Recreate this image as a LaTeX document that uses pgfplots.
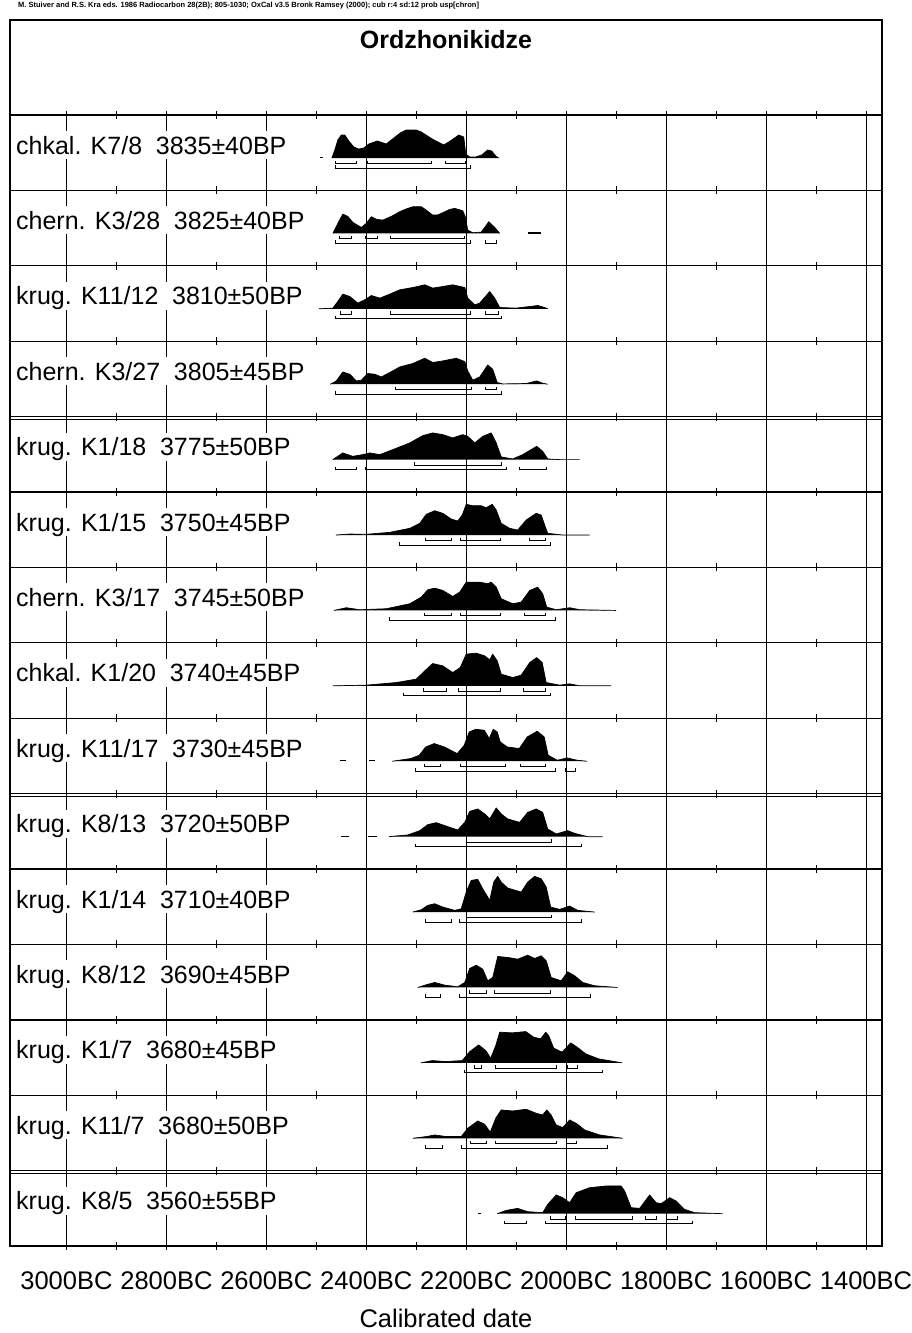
\documentclass[border=0pt]{standalone}
\usepackage{fontspec}
\setmainfont{Liberation Sans}
\usepackage{pgfplots}
\pgfplotsset{compat=1.18}
\usepgfplotslibrary{groupplots}
\usetikzlibrary{calc}
\pgfplotsset{
  dens/.style={fill=black, draw=black, line width=0.7pt, line join=round},
  br/.style={black, line width=0.9pt, line join=miter},
  dash/.style={black, line width=1.2pt},
}
\tikzset{lab/.style={anchor=base west, xshift=3pt, fill=white, inner xsep=3pt, inner ysep=5pt, text depth=0pt, font=\fontsize{25}{25}\selectfont}}
\newcommand\sigA[2]{\addplot[br] coordinates {(#1,-2.5)(#1,-5.5)(#2,-5.5)(#2,-2.5)};}
\newcommand\sigB[2]{\addplot[br] coordinates {(#1,-7)(#1,-10)(#2,-10)(#2,-7)};}
\newcommand\rowlab[1]{\node[lab] at (axis cs:-3113,4) {#1};}
\newcommand\dbl{\draw[line width=1pt] (axis cs:-3113,40.3) -- (axis cs:-1368,40.3);}
\begin{document}
\begin{tikzpicture}
\begin{groupplot}[
  group style={group size=1 by 15, vertical sep=0pt, group name=G},
  width=872pt, height=75.4pt, scale only axis,
  xmin=-3113, xmax=-1368, ymin=-32.4, ymax=43,
  xtick={-3000,-2800,-2600,-2400,-2200,-2000,-1800,-1600,-1400},
  minor xtick={-2900,-2700,-2500,-2300,-2100,-1900,-1700,-1500},
  xticklabels={}, ytick=\empty,
  xmajorgrids, grid style={black, line width=1pt},
  tick align=center, major tick length=8pt, minor tick length=8pt,
  every tick/.style={black, line width=1pt},
  axis line style={black, line width=1.3pt},
  xticklabel style={font=\fontsize{25.5}{26}\selectfont, anchor=base, yshift=-39.5pt},
]
% 1
\nextgroupplot
\coordinate (TL) at (rel axis cs:0,1);
\coordinate (TR) at (rel axis cs:1,1);
\addplot[dash] coordinates {(-2492,0.5)(-2486,0.5)};
\addplot[dens] coordinates {(-2469,0)(-2463,8)(-2457,18)(-2450,23)(-2443,23)(-2435,17)(-2425,11)(-2415,9)(-2405,10)(-2395,14)(-2378,17)(-2360,14)(-2350,18)(-2332,25)(-2320,28)(-2300,28)(-2290,26)(-2268,19)(-2245,13)(-2232,17)(-2215,23)(-2205,21)(-2201,4)(-2193,1)(-2181,1)(-2169,3)(-2157,8)(-2149,7)(-2141,2)(-2135,0)};
\sigA{-2462}{-2419}\sigA{-2398}{-2270}\sigA{-2241}{-2202}
\sigB{-2462}{-2191}
\rowlab{chkal. K7/8\hspace{0.55em}3835±40BP}
% 2
\nextgroupplot
\addplot[dash] coordinates {(-2077,0.5)(-2050,0.5)};
\addplot[dens] coordinates {(-2467,0)(-2457,10)(-2447,19.3)(-2437,17)(-2427,11)(-2410,6)(-2400,10)(-2390,16.7)(-2379,14)(-2367,13.3)(-2350,17)(-2333,21.7)(-2320,24.5)(-2307,26.7)(-2290,26.7)(-2280,23.3)(-2267,18.3)(-2257,18.5)(-2247,20.7)(-2233,24)(-2223,25)(-2207,22.7)(-2202,16.7)(-2197,3.3)(-2187,0.7)(-2170,1.3)(-2160,8)(-2155,11.7)(-2143,6)(-2133,0)};
\sigA{-2453}{-2429}\sigA{-2402}{-2378}\sigA{-2352}{-2203}
\sigB{-2461}{-2191}\sigB{-2162}{-2140}
\rowlab{chern. K3/28\hspace{0.55em}3825±40BP}
% 3
\nextgroupplot
\addplot[dens] coordinates {(-2495,0)(-2467,0.7)(-2457,7.3)(-2447,14.7)(-2433,12.3)(-2417,5.7)(-2403,9)(-2390,13.3)(-2373,10.7)(-2353,14.7)(-2333,19)(-2307,21.3)(-2283,24)(-2267,20.7)(-2247,22.3)(-2227,24)(-2203,21.3)(-2197,10.7)(-2183,4)(-2173,5.7)(-2153,17.3)(-2143,10.7)(-2133,1.3)(-2100,0.7)(-2073,2.3)(-2057,3.3)(-2043,1.3)(-2037,0)};
\sigA{-2452}{-2429}\sigA{-2352}{-2191}\sigA{-2162}{-2135}
\sigB{-2461}{-2130}
\rowlab{krug. K11/12\hspace{0.55em}3810±50BP}
% 4
\nextgroupplot
\addplot[dens] coordinates {(-2472,0)(-2460,3.3)(-2447,12.3)(-2433,10)(-2420,3.3)(-2410,4)(-2397,10.7)(-2383,10)(-2370,7.3)(-2353,11.7)(-2333,17.3)(-2307,20.7)(-2283,26)(-2267,21.7)(-2247,23.3)(-2220,26)(-2203,22.7)(-2197,13.3)(-2187,4)(-2173,7.3)(-2157,19.3)(-2147,15)(-2138,1.7)(-2127,0.3)(-2080,0.7)(-2059,3.3)(-2047,1)(-2037,0)};
\sigA{-2342}{-2190}\sigA{-2162}{-2140}
\sigB{-2462}{-2130}
\rowlab{chern. K3/27\hspace{0.55em}3805±45BP}
% 5
\nextgroupplot
\dbl
\addplot[dens] coordinates {(-2467,0)(-2447,6.7)(-2427,3.3)(-2407,5)(-2393,6.7)(-2373,5)(-2347,10)(-2313,16.7)(-2287,24)(-2267,26.7)(-2247,25)(-2227,21.7)(-2207,25)(-2197,23.3)(-2183,16.7)(-2167,23.3)(-2150,26.7)(-2140,16.7)(-2130,2.7)(-2107,0.7)(-2087,5)(-2059,13.3)(-2047,8.3)(-2037,0.7)(-2013,0)(-1973,0)};
\sigA{-2303}{-2130}
\sigB{-2462}{-2420}\sigB{-2402}{-2120}\sigB{-2093}{-2040}
\rowlab{krug. K1/18\hspace{0.55em}3775±50BP}
% 6
\nextgroupplot
\addplot[dens] coordinates {(-2461,0)(-2433,1)(-2400,0.7)(-2353,2.7)(-2313,6.7)(-2293,11.7)(-2280,20.7)(-2263,24.3)(-2247,21.7)(-2230,16)(-2217,14)(-2208,20)(-2200,30.7)(-2187,29.3)(-2170,29.3)(-2160,27.3)(-2148,30.7)(-2140,25)(-2130,11.7)(-2113,6.7)(-2097,5)(-2080,15)(-2060,21.7)(-2050,20)(-2043,10)(-2037,1.7)(-2007,0)(-1953,0)};
\sigA{-2281}{-2230}\sigA{-2212}{-2131}\sigA{-2073}{-2041}
\sigB{-2333}{-2032}
\rowlab{krug. K1/15\hspace{0.55em}3750±45BP}
% 7
\nextgroupplot
\addplot[dens] coordinates {(-2465,0)(-2440,2.7)(-2413,0.7)(-2360,1.7)(-2313,6.7)(-2290,13.3)(-2277,20.7)(-2263,22.3)(-2247,20)(-2227,14)(-2213,18.3)(-2200,28.3)(-2173,28.3)(-2157,26.7)(-2150,28.3)(-2140,23.3)(-2130,11.7)(-2107,6.7)(-2090,8.3)(-2073,20)(-2057,23.3)(-2047,16.7)(-2039,3.3)(-2020,0.7)(-1993,2.7)(-1973,0.7)(-1900,0)};
\sigA{-2283}{-2230}\sigA{-2212}{-2131}\sigA{-2083}{-2041}
\sigB{-2353}{-2022}
\rowlab{chern. K3/17\hspace{0.55em}3745±50BP}
% 8
\nextgroupplot
\addplot[dens] coordinates {(-2467,0)(-2400,0.7)(-2340,3.3)(-2300,6.7)(-2283,15)(-2267,22.3)(-2247,20)(-2227,13.3)(-2212,18.3)(-2200,31.7)(-2180,32.7)(-2163,30)(-2153,26)(-2147,31.7)(-2138,25)(-2130,11.7)(-2107,8.3)(-2090,10.7)(-2073,23.3)(-2059,28.3)(-2048,23.3)(-2040,3.3)(-2013,0.7)(-1993,2)(-1973,0)(-1910,0)};
\sigA{-2285}{-2240}\sigA{-2215}{-2131}\sigA{-2085}{-2041}
\sigB{-2325}{-2032}
\rowlab{chkal. K1/20\hspace{0.55em}3740±45BP}
% 9
\nextgroupplot
\addplot[dash] coordinates {(-2452,0.5)(-2441,0.5)};
\addplot[dash] coordinates {(-2394,0.5)(-2383,0.5)};
\addplot[dens] coordinates {(-2348,0)(-2311,2.7)(-2294,6)(-2281,14.3)(-2264,17.7)(-2244,14.3)(-2218,7.7)(-2204,16)(-2194,29.3)(-2181,32)(-2164,31)(-2154,22.7)(-2146,32)(-2138,29.3)(-2132,19.3)(-2118,14.3)(-2094,12.7)(-2078,24.3)(-2058,30)(-2044,24.3)(-2036,6)(-2018,1)(-1998,3.3)(-1978,1)(-1958,0)};
\sigA{-2283}{-2251}\sigA{-2211}{-2121}\sigA{-2092}{-2041}
\sigB{-2302}{-2021}\sigB{-2002}{-1981}
\rowlab{krug. K11/17\hspace{0.55em}3730±45BP}
% 10
\nextgroupplot
\dbl
\addplot[dash] coordinates {(-2451,0.5)(-2435,0.5)};
\addplot[dash] coordinates {(-2397,0.5)(-2378,0.5)};
\addplot[dens] coordinates {(-2355,0)(-2317,1.7)(-2293,6)(-2277,12)(-2260,14)(-2237,10)(-2217,6.7)(-2203,14.3)(-2193,25.3)(-2177,27.7)(-2163,22.7)(-2153,17.7)(-2140,28.7)(-2130,22.7)(-2117,17.7)(-2093,14.3)(-2077,24.3)(-2060,27.7)(-2047,24.3)(-2037,7.7)(-2020,2.7)(-1997,6)(-1983,3.3)(-1957,0)(-1927,0)};
\sigA{-2200}{-2030}
\sigB{-2301}{-1970}
\rowlab{krug. K8/13\hspace{0.55em}3720±50BP}
% 11
\nextgroupplot
\addplot[dens] coordinates {(-2307,0)(-2290,2.3)(-2277,6.7)(-2263,8.3)(-2247,5)(-2223,1.7)(-2210,3.3)(-2200,20)(-2190,31.7)(-2177,32.7)(-2167,23.3)(-2153,11.7)(-2145,30)(-2137,35.7)(-2130,30)(-2117,24)(-2090,20)(-2077,30)(-2063,35.7)(-2050,33.3)(-2040,25)(-2031,5)(-2013,2.7)(-1993,6)(-1977,1.7)(-1943,0)};
\sigA{-2199}{-2030}
\sigB{-2282}{-2229}\sigB{-2213}{-1970}
\rowlab{krug. K1/14\hspace{0.55em}3710±40BP}
% 12
\nextgroupplot
\addplot[dens] coordinates {(-2297,0)(-2280,2.7)(-2263,5)(-2243,2.3)(-2217,0.7)(-2203,5)(-2193,19)(-2180,22.3)(-2167,18.3)(-2157,6.7)(-2147,10)(-2137,31)(-2117,30)(-2097,28.3)(-2077,32.3)(-2063,29)(-2050,31.7)(-2040,26.7)(-2030,10)(-2010,6.7)(-1997,15.7)(-1983,11.7)(-1967,5)(-1943,1.7)(-1897,0)};
\sigA{-2193}{-2160}\sigA{-2143}{-2031}
\sigB{-2282}{-2251}\sigB{-2213}{-1951}
\rowlab{krug. K8/12\hspace{0.55em}3690±45BP}
% 13
\nextgroupplot
\addplot[dens] coordinates {(-2291,0)(-2268,2.3)(-2241,1.3)(-2208,2.3)(-2193,11.3)(-2175,18)(-2161,12.3)(-2151,4.7)(-2141,17.3)(-2133,30.7)(-2108,30)(-2081,31.3)(-2065,25.7)(-2051,24)(-2041,30.7)(-2035,27.3)(-2025,14.7)(-2008,10.7)(-1991,20)(-1978,15.7)(-1961,9)(-1935,4)(-1888,0)};
\sigA{-2183}{-2169}\sigA{-2141}{-2020}\sigA{-1998}{-1978}
\sigB{-2203}{-1928}
\rowlab{krug. K1/7\hspace{0.55em}3680±45BP}
% 14
\nextgroupplot
\addplot[dens] coordinates {(-2307,0)(-2280,1.7)(-2263,3.3)(-2240,1.7)(-2210,1.7)(-2197,10)(-2177,17.3)(-2163,14)(-2152,6)(-2141,20)(-2130,28.3)(-2107,27.3)(-2080,29)(-2060,25)(-2047,23.3)(-2039,28.3)(-2030,23.3)(-2020,13.3)(-2007,10.7)(-1993,18.3)(-1980,15)(-1963,8.3)(-1933,3.3)(-1887,0)};
\sigA{-2191}{-2159}\sigA{-2141}{-2019}\sigA{-2000}{-1979}
\sigB{-2281}{-2248}\sigB{-2210}{-1918}
\rowlab{krug. K11/7\hspace{0.55em}3680±50BP}
% 15
\nextgroupplot[
  xticklabels={3000BC,2800BC,2600BC,2400BC,2200BC,2000BC,1800BC,1600BC,1400BC},
  xlabel={Calibrated date},
  xlabel style={font=\fontsize{25.5}{26}\selectfont, at={(rel axis cs:0.5,0)}, anchor=base, yshift=-81pt},
]
\coordinate (BL) at (rel axis cs:0,0);
\dbl
\addplot[dash] coordinates {(-2176,0.5)(-2170,0.5)};
\addplot[dens] coordinates {(-2138,0)(-2120,3.3)(-2097,5.3)(-2077,2)(-2047,1)(-2037,9.3)(-2020,18.7)(-2007,16)(-1993,11)(-1980,21)(-1953,26)(-1920,27.7)(-1890,27.7)(-1883,22.7)(-1870,6)(-1853,5.3)(-1833,18.7)(-1820,11)(-1810,10)(-1793,16)(-1780,12.7)(-1763,4.3)(-1743,1)(-1687,0)};
\sigA{-2031}{-2001}\sigA{-1981}{-1868}\sigA{-1841}{-1819}\sigA{-1799}{-1777}
\sigB{-2123}{-2079}\sigB{-2041}{-1748}
\rowlab{krug. K8/5\hspace{0.55em}3560±55BP}
\end{groupplot}
% title box
\draw[line width=1.3pt] (TL) -- ($(TL)+(0,95pt)$) -- ($(TR)+(0,95pt)$) -- (TR);
\node[anchor=base, font=\bfseries\fontsize{25}{25}\selectfont] at ($(TL)!0.5!(TR)+(0,66pt)$) {Ordzhonikidze};
\node[anchor=west, inner sep=0pt, font=\bfseries\fontsize{7.5}{8}\selectfont] at ($(TL)+(8pt,109.5pt)$) {M. Stuiver and R.S. Kra eds. 1986 Radiocarbon 28(2B); 805-1030; OxCal v3.5 Bronk Ramsey (2000); cub r:4 sd:12 prob usp[chron]};
\pgfresetboundingbox
\path[use as bounding box] ($(TL)+(-10pt,115pt)$) rectangle ++(912pt,-1333pt);
\end{tikzpicture}
\end{document}
